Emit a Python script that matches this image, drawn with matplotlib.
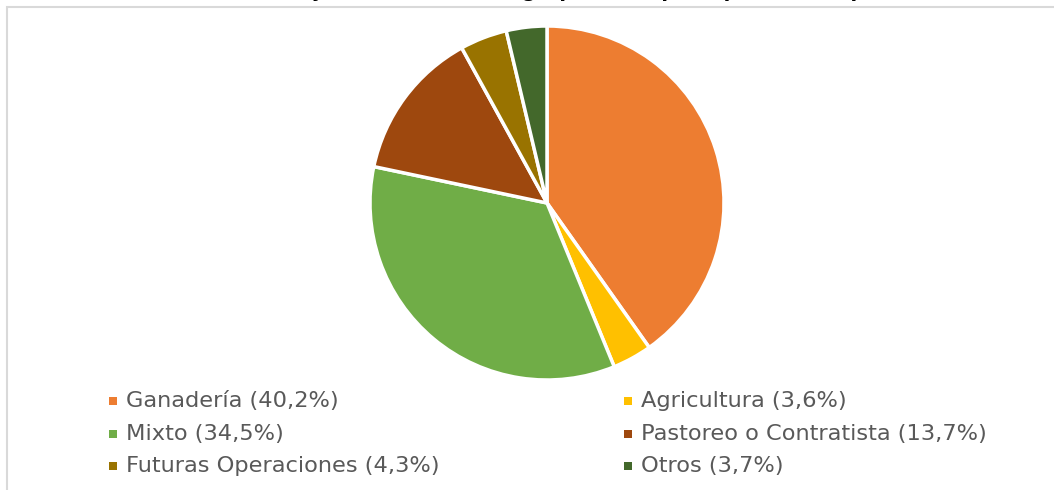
import matplotlib
matplotlib.use("Agg")
import matplotlib.pyplot as plt
from matplotlib.patches import Rectangle

# chart data
categories = ["Ganadería", "Agricultura", "Mixto", "Pastoreo o Contratista",
              "Futuras Operaciones", "Otros"]
shares = [40.2, 3.6, 34.5, 13.7, 4.3, 3.7]
share_labels = ["40,2%", "3,6%", "34,5%", "13,7%", "4,3%", "3,7%"]
colors = ["#ED7D31", "#FFC000", "#70AD47", "#9E480E", "#997300", "#43682B"]
title = "Gráfico 1. Porcentaje de la actividad agropecuaria principal de la explotación"

W, H = 1054, 490
fig = plt.figure(figsize=(W / 100, H / 100), dpi=100)

# light frame of the chart area (cut by the image on the right and bottom)
fig.patches.append(Rectangle((7 / W, -0.1), 1.2, (H - 7) / H + 0.1,
                             transform=fig.transFigure, fill=False,
                             edgecolor="#d9d9d9", lw=1.5))

# title sits above the picture, only the bottom of the glyphs shows
fig.text(527 / W, 1 + 3 / H, title, ha="center", va="baseline",
         fontsize=14, fontweight="bold", color="black")

# pie
cx, cy, r = 547, 203, 177
ax = fig.add_axes([(cx - r) / W, (H - cy - r) / H, 2 * r / W, 2 * r / H])
ax.pie(shares, colors=colors, startangle=90, counterclock=False,
       wedgeprops=dict(edgecolor="white", linewidth=2.5))
ax.set_xlim(-1.0, 1.0)
ax.set_ylim(-1.0, 1.0)

# legend, two columns, filled row by row
col_x = [113, 628]
row_y = [401, 434, 466]
for i, (cat, lab, col) in enumerate(zip(categories, share_labels, colors)):
    mx = col_x[i % 2]
    my = row_y[i // 2]
    fig.patches.append(Rectangle(((mx - 4) / W, (H - my - 4) / H), 8 / W, 8 / H,
                                 transform=fig.transFigure, facecolor=col,
                                 edgecolor="none"))
    fig.text((mx + 13) / W, (H - my) / H, "{} ({})".format(cat, lab),
             ha="left", va="center", fontsize=16.2, color="#595959")

fig.savefig("out.png", dpi=100)
